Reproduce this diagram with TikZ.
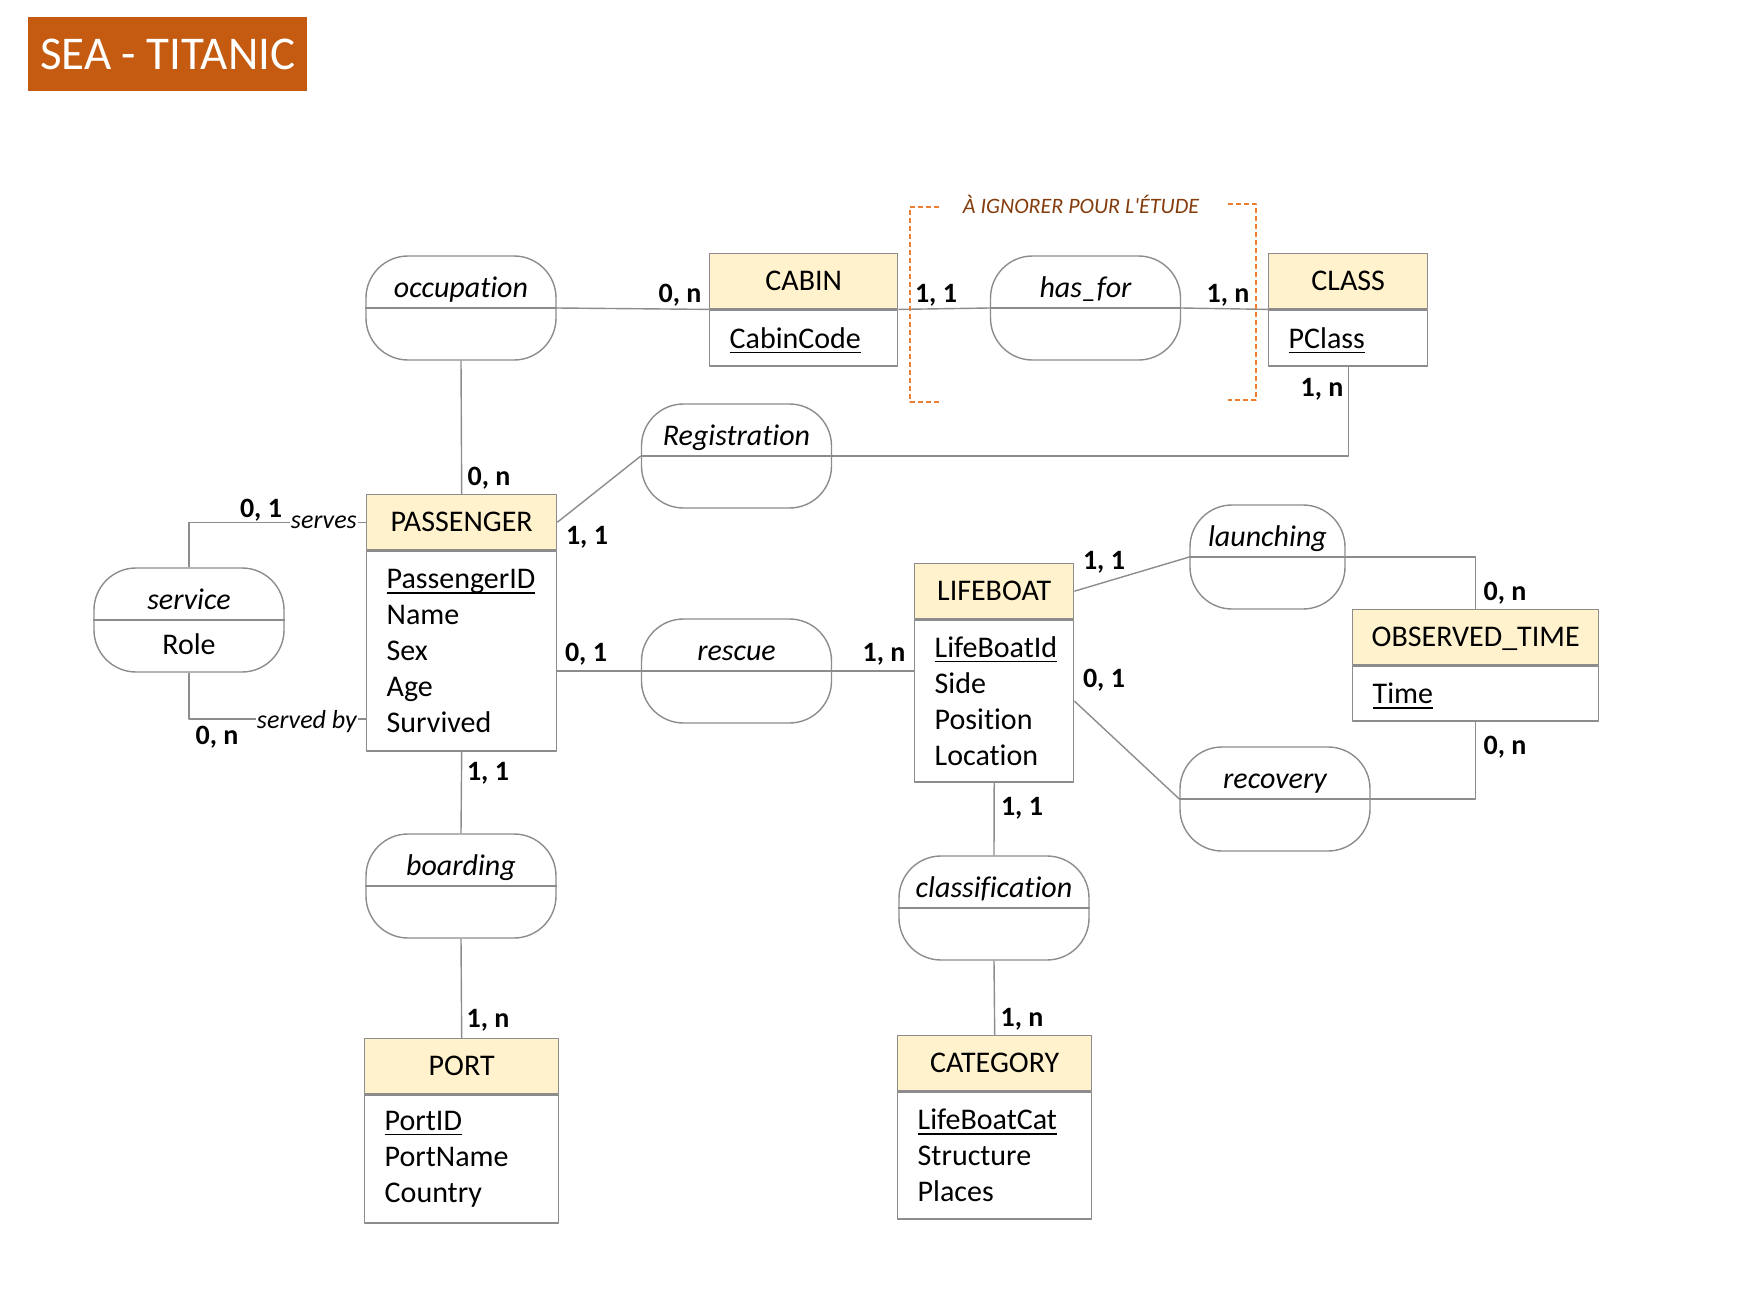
\documentclass[tikz,border=0pt]{standalone}
\usepackage{fontspec}
\setmainfont{Carlito}[Ligatures=NoCommon]
\usetikzlibrary{calc}
\definecolor{linegray}{RGB}{140,140,140}
\definecolor{headfill}{RGB}{255,242,204}
\definecolor{titlefill}{RGB}{197,90,17}
\definecolor{dashorange}{RGB}{237,125,49}
\definecolor{notebrown}{RGB}{132,60,12}
\newcommand{\keyattr}[1]{\setbox0=\hbox{#1}\rlap{\raisebox{-5pt}[0pt][0pt]{\rule{\wd0}{1.8pt}}}\box0}
\begin{document}
\begin{tikzpicture}[x=1pt,y=-1pt,line join=round,
  conn/.style={draw=linegray,line width=1.4pt},
  enthead/.style={draw=linegray,line width=1.4pt,fill=headfill,rectangle,minimum height=55pt,inner sep=0pt,anchor=north west,font=\fontsize{30}{36}\selectfont,text height=19pt,text depth=0pt},
  entbody/.style={draw=linegray,line width=1.4pt,rectangle,anchor=north,inner xsep=20pt,inner ysep=0pt,align=left,font=\fontsize{30}{36}\selectfont},
  assoc/.style={draw=linegray,line width=1.4pt,rectangle,rounded corners=42pt,minimum width=190pt,minimum height=104pt,inner sep=0pt},
  assoclbl/.style={font=\fontsize{30}{36}\selectfont\itshape,anchor=base,inner sep=0pt},
  card/.style={font=\fontsize{28}{33}\selectfont\bfseries,inner sep=0pt},
  rolelbl/.style={font=\fontsize{26}{31}\selectfont\itshape,fill=white,inner sep=1pt,anchor=base east},
  bracket/.style={draw=dashorange,line width=1.5pt,dash pattern=on 5pt off 3pt}]
\useasboundingbox (0,0) rectangle (1740,1298);

% title
\node[fill=titlefill,minimum width=279pt,minimum height=74pt,anchor=north west,text=white,font=\fontsize{47}{56}\selectfont,inner sep=0pt] (title) at (28,17) {SEA - TITANIC};

% entities
\node[enthead,minimum width=188pt] (cabinH) at (709,253) {CABIN};
\node[entbody,minimum width=188pt,text width=148pt,minimum height=56pt] (cabinB) at (cabinH.south) {\keyattr{CabinCode}};

\node[enthead,minimum width=159pt] (classH) at (1268,253) {CLASS};
\node[entbody,minimum width=159pt,text width=119pt,minimum height=56pt] (classB) at (classH.south) {\keyattr{PClass}};

\node[enthead,minimum width=190pt] (passH) at (366,494) {PASSENGER};
\node[entbody,minimum width=190pt,text width=150pt,minimum height=200pt] (passB) at (passH.south) {\keyattr{PassengerID}\\Name\\Sex\\Age\\Survived};

\node[enthead,minimum width=159pt] (lifeH) at (914,563) {LIFEBOAT};
\node[entbody,minimum width=159pt,text width=119pt,minimum height=162pt] (lifeB) at (lifeH.south) {\keyattr{LifeBoatId}\\Side\\Position\\Location};

\node[enthead,minimum width=246pt] (obsH) at (1352,609) {OBSERVED\_TIME};
\node[entbody,minimum width=246pt,text width=206pt,minimum height=55pt] (obsB) at (obsH.south) {\keyattr{Time}};

\node[enthead,minimum width=194pt] (portH) at (364,1038) {PORT};
\node[entbody,minimum width=194pt,text width=154pt,minimum height=128pt] (portB) at (portH.south) {\keyattr{PortID}\\PortName\\Country};

\node[enthead,minimum width=194pt] (catH) at (897,1035) {CATEGORY};
\node[entbody,minimum width=194pt,text width=154pt,minimum height=127pt] (catB) at (catH.south) {\keyattr{LifeBoatCat}\\Structure\\Places};

% associations
\node[assoc] (occ) at (461,308) {};
\node[assoc] (hasfor) at (1085.5,308) {};
\node[assoc] (reg) at (736.5,456) {};
\node[assoc] (serv) at (189,620) {};
\node[assoc] (rescue) at (736.5,671) {};
\node[assoc,minimum width=155pt] (launch) at (1267.5,557) {};
\node[assoc] (recov) at (1275,799) {};
\node[assoc] (board) at (461,886) {};
\node[assoc] (classif) at (994,908) {};

\foreach \a in {occ,hasfor,reg,serv,rescue,launch,recov,board,classif}
  \draw[conn] (\a.west) -- (\a.east);

\node[assoclbl] (occL) at ($(occ.center)+(0,-11)$) {occupation};
\node[assoclbl] (hasforL) at ($(hasfor.center)+(0,-11)$) {has\_for};
\node[assoclbl] (regL) at ($(reg.center)+(0,-11)$) {Registration};
\node[assoclbl] (servL) at ($(serv.center)+(0,-11)$) {service};
\node[assoclbl,font=\fontsize{30}{36}\selectfont] (roleL) at ($(serv.center)+(0,34)$) {Role};
\node[assoclbl] (rescueL) at ($(rescue.center)+(0,-11)$) {rescue};
\node[assoclbl] (launchL) at ($(launch.center)+(0,-11)$) {launching};
\node[assoclbl] (recovL) at ($(recov.center)+(0,-11)$) {recovery};
\node[assoclbl] (boardL) at ($(board.center)+(0,-11)$) {boarding};
\node[assoclbl] (classifL) at ($(classif.center)+(0,-11)$) {classification};

% connectors
\draw[conn] (occ.east) -- (cabinH.south west);
\draw[conn] (occ.south) -- (passH.north);
\draw[conn] (cabinH.south east) -- (hasfor.west);
\draw[conn] (hasfor.east) -- (classH.south west);
\draw[conn] (passH.east) -- (reg.west);
\draw[conn] (reg.east) -| (classB.south);
\draw[conn] (passH.west) -| (serv.north);
\coordinate (sbpt) at (366,719);
\draw[conn] (serv.south) |- (sbpt);
\draw[conn] (rescue.west -| passB.east) -- (rescue.west);
\draw[conn] (rescue.east) -- (rescue.east -| lifeB.west);
\draw[conn] (passB.south) -- (board.north);
\draw[conn] (board.south) -- (portH.north);
\draw[conn] (lifeH.east) -- (launch.west);
\draw[conn] (launch.east) -| (obsH.north);
\draw[conn] (lifeB.east) -- (recov.west);
\draw[conn] (recov.east) -| (obsB.south);
\draw[conn] (lifeB.south) -- (classif.north);
\draw[conn] (classif.south) -- (catH.north);

% role labels
\node[rolelbl] (servesL) at (358,528) {serves};
\node[rolelbl] (servedbyL) at (358,728) {served by};

% cardinalities
\node[card] (k1) at (680,295) {0, n};
\node[card] (k2) at (936,295) {1, 1};
\node[card] (k3) at (1228,295) {1, n};
\node[card] (k4) at (1322,389) {1, n};
\node[card] (k5) at (489,478) {0, n};
\node[card] (k6) at (261,510) {0, 1};
\node[card] (k7) at (217,737) {0, n};
\node[card] (k8) at (587,537) {1, 1};
\node[card] (k9) at (586,654) {0, 1};
\node[card] (k10) at (884,654) {1, n};
\node[card] (k11) at (488,773) {1, 1};
\node[card] (k12) at (488,1020) {1, n};
\node[card] (k13) at (1104,562) {1, 1};
\node[card] (k14) at (1104,680) {0, 1};
\node[card] (k15) at (1505,593) {0, n};
\node[card] (k16) at (1505,747) {0, n};
\node[card] (k17) at (1022,808) {1, 1};
\node[card] (k18) at (1022,1019) {1, n};

% ignore bracket
\draw[bracket] (939,207) -- (910,207) -- (910,402) -- (939,402);
\draw[bracket] (1228,204) -- (1256,204) -- (1256,400) -- (1228,400);
\node[font=\fontsize{22}{26}\selectfont\itshape,text=notebrown,anchor=base,inner sep=0pt] (note) at (1081,213) {À IGNORER POUR L\textquotesingle ÉTUDE};
\end{tikzpicture}
\end{document}
